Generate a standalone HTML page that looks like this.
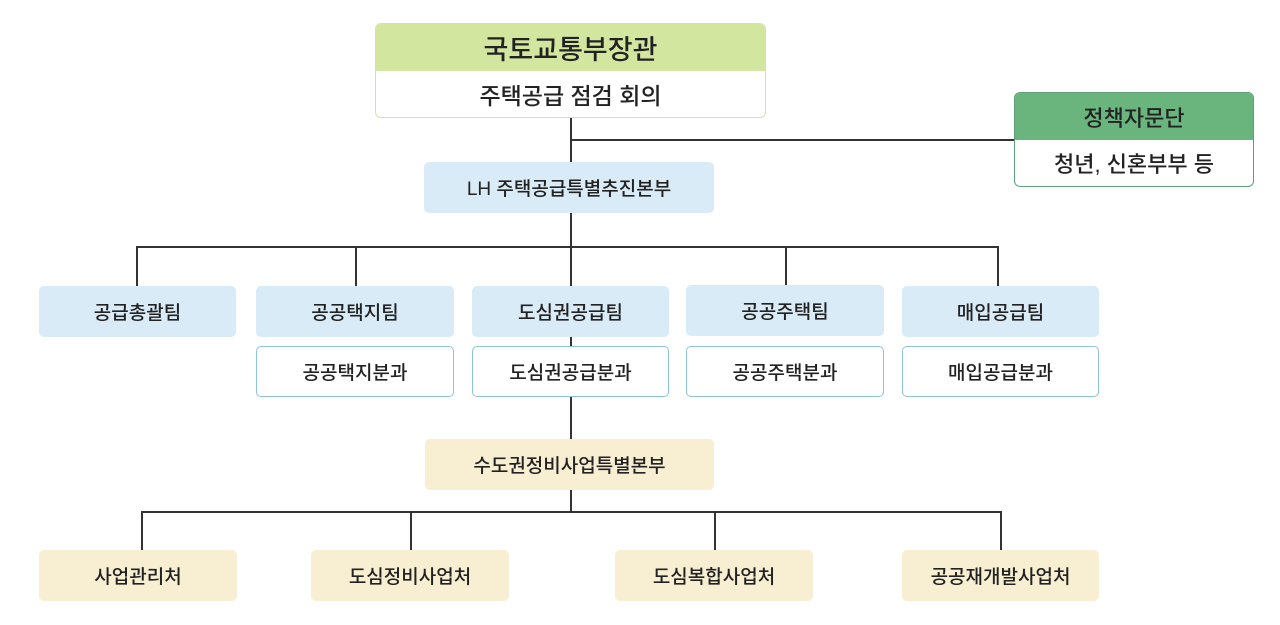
<!DOCTYPE html>
<html><head><meta charset="utf-8"><style>
body{margin:0;width:1280px;height:625px;background:#fff;position:relative;overflow:hidden;font-family:"Liberation Sans","Noto Sans CJK KR",sans-serif;color:#222}
.b{position:absolute;box-sizing:border-box;display:flex;align-items:center;justify-content:center;border-radius:5px;font-size:19px;font-weight:500}
.l{position:absolute;background:#333}
.blue{background:#d9ebf7}
.yel{background:#f8efd2}
.sub{background:#fff;border:1.5px solid #8cc3e0}
</style></head><body>
<div class="l" style="left:570px;top:117px;width:1.5px;height:46px"></div>
<div class="l" style="left:570px;top:139px;width:445px;height:1.5px"></div>
<div class="l" style="left:570px;top:213px;width:1.5px;height:34px"></div>
<div class="l" style="left:136px;top:246px;width:862px;height:1.5px"></div>
<div class="l" style="left:136px;top:246px;width:1.5px;height:40px"></div>
<div class="l" style="left:355px;top:246px;width:1.5px;height:40px"></div>
<div class="l" style="left:570px;top:246px;width:1.5px;height:40px"></div>
<div class="l" style="left:785px;top:246px;width:1.5px;height:40px"></div>
<div class="l" style="left:997px;top:246px;width:1.5px;height:40px"></div>
<div class="l" style="left:570px;top:337px;width:1.5px;height:103px"></div>
<div class="l" style="left:570px;top:490px;width:1.5px;height:22px"></div>
<div class="l" style="left:141px;top:511px;width:860px;height:1.5px"></div>
<div class="l" style="left:141px;top:511px;width:1.5px;height:40px"></div>
<div class="l" style="left:410px;top:511px;width:1.5px;height:40px"></div>
<div class="l" style="left:714px;top:511px;width:1.5px;height:40px"></div>
<div class="l" style="left:1000px;top:511px;width:1.5px;height:40px"></div>

<div class="b" style="left:375px;top:23px;width:391px;height:95px;border:1.5px solid #d3e6a0;background:#fff;display:block;border-radius:6px;overflow:hidden">
<div style="height:47px;background:#d3e6a0;display:flex;align-items:center;justify-content:center;font-size:27px">국토교통부장관</div>
<div style="height:46px;display:flex;align-items:center;justify-content:center;font-size:23px">주택공급 점검 회의</div>
</div>
<div class="b" style="left:1014px;top:92px;width:240px;height:95px;border:1.5px solid #5e9e78;background:#fff;display:block;border-radius:6px;overflow:hidden">
<div style="height:47px;background:#6ab57e;display:flex;align-items:center;justify-content:center;font-size:22px">정책자문단</div>
<div style="height:46px;display:flex;align-items:center;justify-content:center;font-size:22px">청년, 신혼부부 등</div>
</div>
<div class="b blue" style="left:424px;top:162px;width:290px;height:51px">LH 주택공급특별추진본부</div>

<div class="b blue" style="left:39px;top:286px;width:197px;height:51px">공급총괄팀</div>
<div class="b blue" style="left:256px;top:286px;width:198px;height:51px">공공택지팀</div>
<div class="b blue" style="left:472px;top:286px;width:197px;height:51px">도심권공급팀</div>
<div class="b blue" style="left:686px;top:285px;width:198px;height:51px">공공주택팀</div>
<div class="b blue" style="left:902px;top:286px;width:197px;height:51px">매입공급팀</div>

<div class="b sub" style="left:256px;top:346px;width:198px;height:51px">공공택지분과</div>
<div class="b sub" style="left:472px;top:346px;width:197px;height:51px">도심권공급분과</div>
<div class="b sub" style="left:686px;top:346px;width:198px;height:51px">공공주택분과</div>
<div class="b sub" style="left:902px;top:346px;width:197px;height:51px">매입공급분과</div>

<div class="b yel" style="left:425px;top:439px;width:289px;height:51px">수도권정비사업특별본부</div>

<div class="b yel" style="left:39px;top:550px;width:198px;height:51px">사업관리처</div>
<div class="b yel" style="left:311px;top:550px;width:198px;height:51px">도심정비사업처</div>
<div class="b yel" style="left:615px;top:550px;width:198px;height:51px">도심복합사업처</div>
<div class="b yel" style="left:902px;top:550px;width:197px;height:51px">공공재개발사업처</div>
</body></html>
